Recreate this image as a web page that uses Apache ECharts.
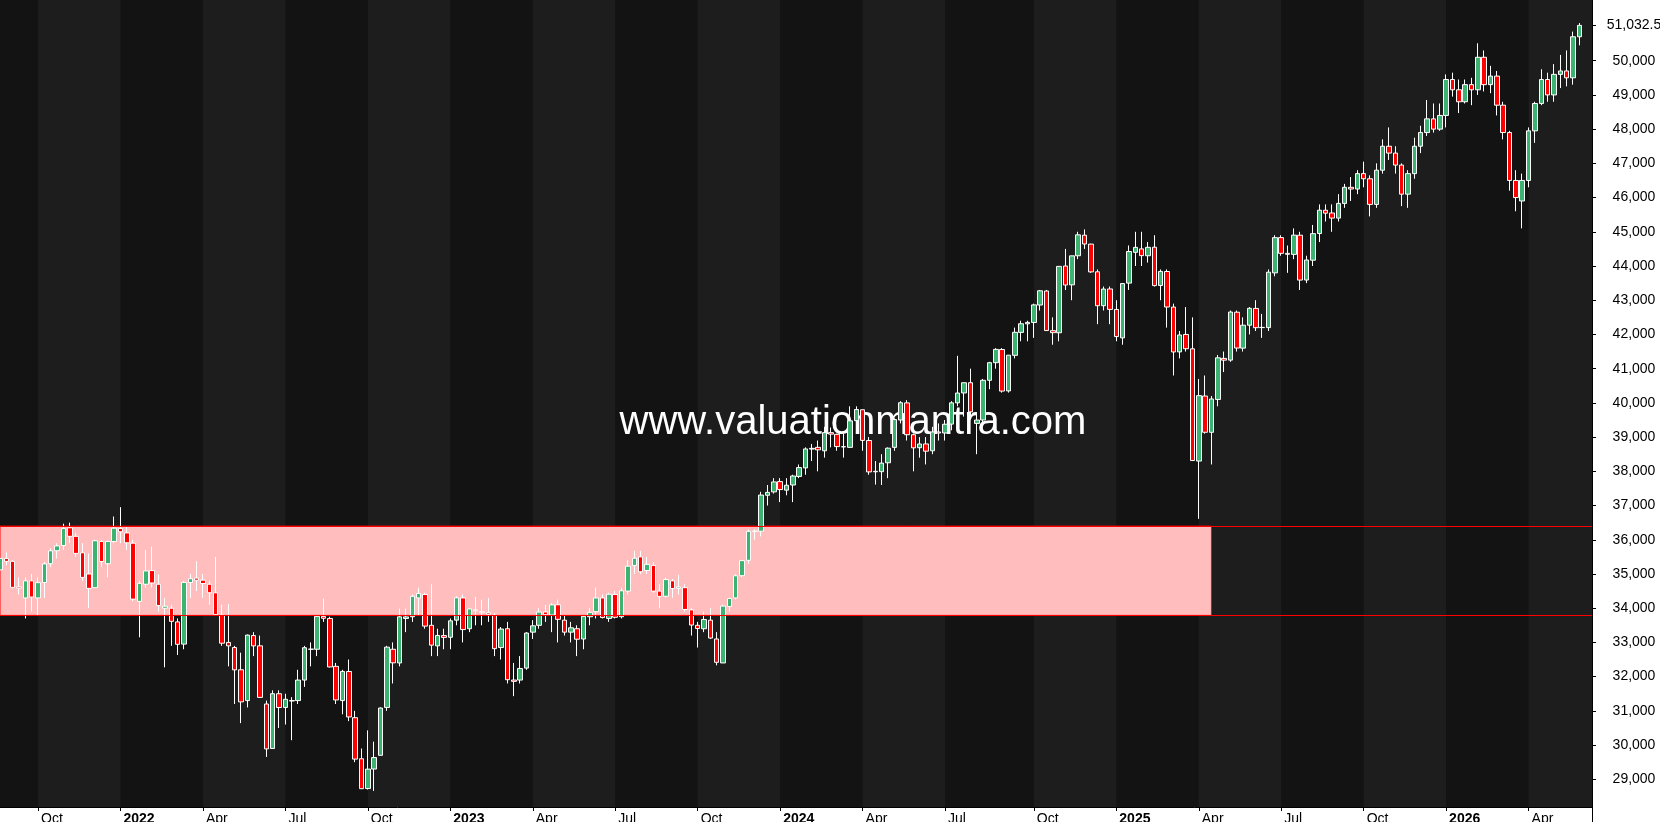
<!DOCTYPE html>
<html>
<head>
<meta charset="utf-8">
<script src="https://cdn.jsdelivr.net/npm/echarts@6.0.0/dist/echarts.min.js"></script>
<style>
html,body{margin:0;padding:0;background:#ffffff;}
#chart{width:1660px;height:822px;}
</style>
</head>
<body>
<div id="chart"></div>
<script>
// ---- data: weekly candles [open, close, low, high], one row per week starting Monday ----
const firstWeek = '2021-08-23';
const weekCount = 252;

const ohlc2021 = [
 [35120,35455,35050,35500],[35450,35369,35250,35630],[35370,34608,34580,35400],[34620,34584,34400,34900],
 [34300,34798,33700,34900],[34800,34326,33900,35000],[34300,34746,33800,34900],[34750,35295,34300,35350],
 [35300,35677,35200,35750],[35680,35820,35450,35900],[35830,36328,35700,36470],[36350,36100,35900,36500],
 [36100,35602,35500,36200],[35620,34899,34800,35900],[35000,34580,34000,35600],[34600,35971,34600,36000],
 [35950,35365,35200,36000],[35300,35950,34900,35980],[35950,36338,35900,36680]
];
const ohlc2022 = [
 [36330,36231,35900,36952],[36200,35912,35700,36400],[35900,34265,34200,36000],[34200,34725,33150,34800],
 [34700,35089,34600,35700],[35100,34738,34600,35800],[34700,34079,33900,34990],[34000,34058,32272,34300],
 [34000,33615,32900,34100],[33600,32944,32632,33700],[32950,34754,32800,34800],[34750,34861,34300,35000],
 [34880,34818,34500,35370],[34820,34721,34300,35000],[34700,34451,34100,34800],[34450,33811,33800,35500],
 [33800,32977,32900,34100],[33000,32899,32300,34120],[32850,32197,31200,32900],[32200,31262,30640,32700],
 [31300,33213,31100,33230],[33200,32899,32600,33300],[32900,31393,31380,33200],[31200,29889,29653,31300],
 [29900,31501,29900,31600],[31500,31097,30500,31600],[31100,31338,30600,31500],[31300,31288,30143,31400],
 [31300,31899,31200,32200],[31900,32845,31700,32900],[32800,32803,32300,33000],[32800,33761,32600,33800],
 [33760,33706,33600,34281],[33700,32283,32270,33750],[32300,31318,31200,32400],[31300,32152,30900,32200],
 [32150,30822,30700,32500],[30800,29590,29500,31000],[29600,28726,28715,29900],[28730,29297,28700,30430],
 [29300,29635,28660,30100],[29700,31083,29700,31100],[31100,32861,31000,32900],[32800,32403,31800,33000],
 [32400,33748,32300,33990],[33700,33746,33300,33990],[33750,34347,33600,34400],[34300,34430,33800,34600],
 [34400,33476,33400,34450],[33500,32920,32600,34700],[32900,33203,32600,33400],[33200,33147,32800,33400]
];
const ohlc2023 = [
 [33150,33631,32800,33700],[33650,34303,33500,34350],[34300,33375,33000,34400],[33400,33978,33300,34000],
 [33950,33926,33500,34330],[33900,33869,33500,34250],[33870,33827,33600,34300],[33800,32817,32600,33850],
 [32850,33391,32500,33450],[33400,31910,31800,33600],[31900,31862,31429,32400],[31900,32238,31800,32600],
 [32250,33274,32200,33300],[33300,33485,33100,33650],[33500,33886,33400,34000],[33890,33809,33600,34100],
 [33800,34098,33300,34150],[34100,33674,33000,34250],[33650,33300,33200,33800],[33300,33427,33000,33600],
 [33400,33093,32600,33500],[33100,33762,32800,33800],[33750,33877,33500,34000],[33900,34299,33700,34600],
 [34300,33727,33700,34400],[33700,34408,33600,34450],[34400,33734,33700,34500],[33750,34509,33700,34600],
 [34500,35228,34400,35400],[35250,35459,35000,35680],[35500,35065,35000,35680],[35100,35281,35000,35500],
 [35250,34500,34450,35350],[34500,34346,34000,34700],[34350,34837,34300,34900],[34800,34576,34300,34850],
 [34580,34618,34400,34980],[34600,33963,33900,34700],[33950,33507,33200,34000],[33500,33407,32850,33600],
 [33400,33670,33300,33900],[33650,33127,33100,34000],[33100,32418,32330,33300],[32400,34061,32400,34100],
 [34050,34283,33900,34300],[34300,34947,34250,35000],[34950,35390,34900,35400],[35400,36246,35300,36300],
 [36250,36248,36000,36300],[36250,37306,36100,37400],[37300,37385,37000,37600],[37400,37690,37350,37800]
];
const ohlc2024 = [
 [37700,37466,37100,37800],[37450,37593,37300,37800],[37600,37863,37100,37900],[37850,38109,37800,38200],
 [38100,38654,37900,38700],[38650,38671,38300,38800],[38700,38628,38000,38900],[38600,39131,38400,39300],
 [39130,39087,38700,39280],[39080,38723,38600,39100],[38720,38714,38400,39100],[38700,39475,38700,39900],
 [39480,39807,39300,39900],[39800,38904,38600,39800],[38900,37983,37900,39000],[38000,37986,37612,38300],
 [37990,38240,37600,38500],[38250,38676,37800,38700],[38700,39513,38600,39550],[39500,40004,39400,40050],
 [40000,39070,38900,40080],[39070,38686,38000,39100],[38690,38799,38400,39000],[38800,38589,38200,39000],
 [38600,39150,38500,39300],[39150,39119,38900,39400],[39120,39376,38900,39500],[39380,40001,39200,40050],
 [40000,40288,39900,41376],[40290,40589,39600,40600],[40590,39737,39600,41000],[39400,39498,38500,39700],
 [39500,40660,39300,40700],[40660,41175,40400,41200],[41175,41563,41000,41600],[41560,40345,40300,41600],
 [40350,41394,40300,41400],[41390,42063,41300,42200],[42060,42313,41800,42400],[42310,42352,41800,42400],
 [42350,42864,41900,42900],[42860,43276,42700,43300],[43270,42114,42100,43300],[42110,42052,41700,42500],
 [42050,43989,41800,44000],[44000,43445,43300,44500],[43450,44297,43000,44300],[44300,44911,44200,45000],
 [44900,44643,44500,45070],[44640,43828,43800,44650],[43830,42840,42300,43900],[42840,43326,42700,43400],
 [43330,42732,42300,43400]
];
const ohlc2025 = [
 [42730,41938,41800,43000],[41900,43488,41700,43500],[43500,44424,43300,44600],[44400,44545,44000,45000],
 [44500,44303,44000,45000],[44300,44546,44100,44700],[44550,43428,43400,44900],[43430,43841,43000,43900],
 [43840,42802,42200,43900],[42800,41488,40800,42900],[41490,41985,41300,42100],[42000,41583,41500,42800],
 [41580,38315,38300,42500],[38300,40212,36612,40700],[40200,39142,39100,40800],[39140,40114,38200,40200],
 [40100,41317,39900,41400],[41300,41249,40900,41500],[41250,42655,41200,42700],[42650,41603,41500,42700],
 [41600,42270,41500,42500],[42270,42763,42000,42800],[42760,42198,42100,43000],[42200,42206,41900,42600],
 [42200,43819,42100,43900],[43800,44829,43700,44900],[44830,44371,44300,44900],[44370,44342,43800,44600],
 [44340,44902,44200,45100],[44900,43589,43300,45000],[43590,44176,43500,44300],[44170,44946,44000,45200],
 [44950,45631,44700,45800],[45630,45545,45300,45800],[45550,45400,45000,45800],[45400,45830,45300,46100],
 [45830,46300,45700,46400],[46300,46250,45900,46600],[46250,46700,46100,46800],[46700,46550,46300,47050],
 [46550,45800,45450,46650],[45800,46800,45700,47000],[46800,47500,46700,47700],[47500,47300,47100,48050],
 [47300,46950,46700,47500],[46950,46100,45750,47000],[46100,46700,45700,46800],[46700,47500,46550,47750],
 [47500,47900,47300,48100],[47900,48300,47800,48850],[48300,48000,47900,48750],[48000,48400,47950,48750]
];
const ohlc2026 = [
 [48400,49450,48050,49600],[49450,49150,48950,49650],[49150,48800,48470,49450],[48800,49300,48750,49450],
 [49300,49150,48700,49500],[49150,50100,49000,50510],[50100,49300,49100,50300],[49300,49550,49050,49850],
 [49550,48700,48400,49700],[48700,47900,47700,48800],[47900,46500,46200,47950],[46500,46000,45600,46800],
 [45900,46500,45100,46700],[46500,47950,46300,48050],[47950,48750,47600,48800],[48750,49450,48700,49750],
 [49450,49000,48800,49650],[49000,49600,48800,49900],[49600,49700,49200,50170],[49700,49500,49250,50300],
 [49500,50700,49300,50850],[50700,51032.5,50450,51100]
];

// ---- axis / annotation values ----
const yTicks = [29000,30000,31000,32000,33000,34000,35000,36000,37000,38000,39000,40000,
                41000,42000,43000,44000,45000,46000,47000,48000,49000,50000];
const lastPrice = 51032.5;
const yMin = 28190;
const yMax = 51774;
const zoneHigh = 36400;
const zoneLow = 33790;
const zoneEnd = '2025-04-21';
const monthNames = ['Jan','Feb','Mar','Apr','May','Jun','Jul','Aug','Sep','Oct','Nov','Dec'];
const watermark = 'www.valuationmantra.com';

// ---- build ----
const FONT = '"Liberation Sans", Arial, sans-serif';
const candles = [].concat(ohlc2021, ohlc2022, ohlc2023, ohlc2024, ohlc2025, ohlc2026);

const weeks = [];
(function () {
  const p = firstWeek.split('-').map(Number);
  const t0 = Date.UTC(p[0], p[1] - 1, p[2]);
  for (let i = 0; i < weekCount; i++) {
    const d = new Date(t0 + i * 7 * 86400000);
    const s = d.getUTCFullYear() + '-' + String(d.getUTCMonth() + 1).padStart(2, '0') + '-' +
              String(d.getUTCDate()).padStart(2, '0');
    weeks.push(s);
  }
})();

// first week of each quarter
const quarterIdx = [];
weeks.forEach(function (w, i) {
  const m = parseInt(w.slice(5, 7), 10);
  const day = parseInt(w.slice(8, 10), 10);
  if ((m === 1 || m === 4 || m === 7 || m === 10) && day <= 7) quarterIdx.push(i);
});
const quarterSet = new Set(quarterIdx);

// lighter bands: Apr-Jun and Oct-Dec
const bands = [];
quarterIdx.forEach(function (qi, k) {
  const m = parseInt(weeks[qi].slice(5, 7), 10);
  if (m === 4 || m === 10) {
    const end = k + 1 < quarterIdx.length ? quarterIdx[k + 1] : weeks.length - 1;
    bands.push([{ xAxis: weeks[qi] }, { xAxis: weeks[end] }]);
  }
});

const chart = echarts.init(document.getElementById('chart'), null, { renderer: 'canvas' });

const option = {
  animation: false,
  backgroundColor: '#ffffff',
  grid: {
    left: 0, right: 68, top: 0, bottom: 15,
    show: true, backgroundColor: '#131313', borderWidth: 0,
    containLabel: false, outerBoundsMode: 'none'
  },
  xAxis: {
    type: 'category',
    data: weeks,
    boundaryGap: false,
    axisLine: { show: true, lineStyle: { color: '#000000', width: 1 } },
    axisTick: {
      show: true, length: 4,
      interval: function (i) { return quarterSet.has(i); },
      lineStyle: { color: '#000000' }
    },
    axisLabel: {
      interval: function (i) { return quarterSet.has(i); },
      align: 'left',
      margin: 5,
      padding: [0, 0, 0, 3],
      color: '#000000',
      fontSize: 14,
      fontFamily: FONT,
      formatter: function (v) {
        const m = parseInt(v.slice(5, 7), 10);
        if (m === 1) return '{y|' + v.slice(0, 4) + '}';
        return monthNames[m - 1];
      },
      rich: { y: { fontWeight: 'bold', fontSize: 14, fontFamily: FONT, color: '#000000' } }
    },
    splitLine: { show: false }
  },
  yAxis: {
    type: 'value',
    position: 'right',
    min: yMin,
    max: yMax,
    axisLine: { show: true, onZero: false, lineStyle: { color: '#000000', width: 1 } },
    axisTick: {
      show: true, length: 4,
      customValues: yTicks.concat([lastPrice]),
      lineStyle: { color: '#000000' }
    },
    axisLabel: {
      customValues: yTicks.concat([lastPrice]),
      formatter: function (v) { return Number(v).toLocaleString('en-US'); },
      align: 'center',
      margin: 42,
      color: '#000000',
      fontSize: 14,
      fontFamily: FONT
    },
    splitLine: { show: false }
  },
  graphic: [
    {
      type: 'text', z: 3, silent: true,
      x: 853, y: 423,
      style: {
        text: watermark, fill: '#ffffff',
        font: '40px "Liberation Sans", Arial, sans-serif',
        align: 'center', verticalAlign: 'middle'
      }
    },
    {
      type: 'line', z: 10, silent: true,
      shape: { x1: 1592.5, y1: 807, x2: 1592.5, y2: 822 },
      style: { stroke: '#000000', lineWidth: 1 }
    }
  ],
  series: [
    {
      name: 'bands', type: 'line', data: [], z: 1, silent: true,
      markArea: { silent: true, itemStyle: { color: '#1d1d1d' }, data: bands }
    },
    {
      name: 'zone', type: 'line', data: [], z: 2, silent: true,
      markArea: {
        silent: true,
        itemStyle: { color: '#ffbdbd', borderColor: '#ff0000', borderWidth: 1 },
        data: [[{ xAxis: weeks[0], yAxis: zoneHigh }, { xAxis: zoneEnd, yAxis: zoneLow }]]
      }
    },
    {
      name: 'price', type: 'candlestick', z: 4,
      data: candles,
      barWidth: 5,
      itemStyle: {
        color: '#3cb371', color0: '#ff0000',
        borderColor: '#ffffff', borderColor0: '#ffffff', borderWidth: 1
      }
    },
    {
      name: 'zoneLines', type: 'line', data: [], z: 5, silent: true,
      markLine: {
        silent: true, symbol: 'none',
        label: { show: false },
        lineStyle: { color: '#ff0000', width: 1, type: 'solid' },
        data: [{ yAxis: zoneHigh }, { yAxis: zoneLow }]
      }
    }
  ]
};

chart.setOption(option);
</script>
</body>
</html>
